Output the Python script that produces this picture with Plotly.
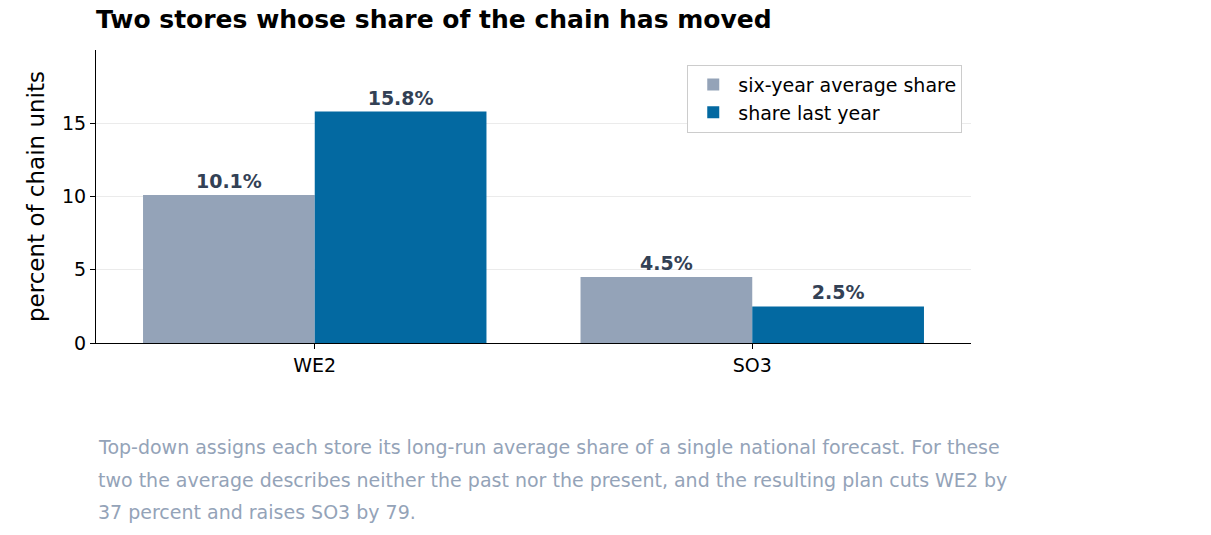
import plotly.graph_objects as go

stores = ["WE2", "SO3"]
avg_share = [10.1, 4.5]
last_share = [15.8, 2.5]
caption_lines = [
    "Top-down assigns each store its long-run average share of a single national forecast. For these",
    "two the average describes neither the past nor the present, and the resulting plan cuts WE2 by",
    "37 percent and raises SO3 by 79.",
]

font = "DejaVu Sans"
fig = go.Figure()
for name, vals, col in [("six-year average share", avg_share, "#94a3b8"),
                        ("share last year", last_share, "#0369a1")]:
    fig.add_bar(x=stores, y=vals, name=name, marker_color=col, marker_line_width=0,
                text=[f"{v}%" for v in vals], textposition="outside",
                textfont=dict(color="#334155", size=19, family=font, weight="bold"), cliponaxis=False)
fig.update_layout(
    width=1211, height=535, barmode="group", bargap=0.215, bargroupgap=0,
    margin=dict(l=88, r=248, t=42, b=200),
    plot_bgcolor="white", paper_bgcolor="white",
    font=dict(family=font, size=19, color="black"),
    title=dict(text="<b>Two stores whose share of the chain has moved</b>", x=88/1211, xanchor="left",
               y=0.995, yanchor="top", font=dict(size=25)),
    legend=dict(x=0.99, y=0.95, xanchor="right", yanchor="top", bordercolor="#cccccc", borderwidth=1,
                font=dict(size=19), bgcolor="white", itemwidth=40),
    xaxis=dict(showline=True, linecolor="black", ticks="outside", tickcolor="black"),
    yaxis=dict(range=[0, 20], tickvals=[0, 5, 10, 15], showline=True, linecolor="black", ticks="outside",
               tickcolor="black", showgrid=True, gridcolor="#ebebeb",
               title=dict(text="percent of chain units", standoff=10)),
)
for i, line in enumerate(caption_lines):
    fig.add_annotation(xref="paper", yref="paper", x=0, y=-0.354 - 0.112 * i, xanchor="left", yanchor="middle",
                       showarrow=False, font=dict(size=19, color="#94a3b8"), text=line)
fig.write_html("out.html")
